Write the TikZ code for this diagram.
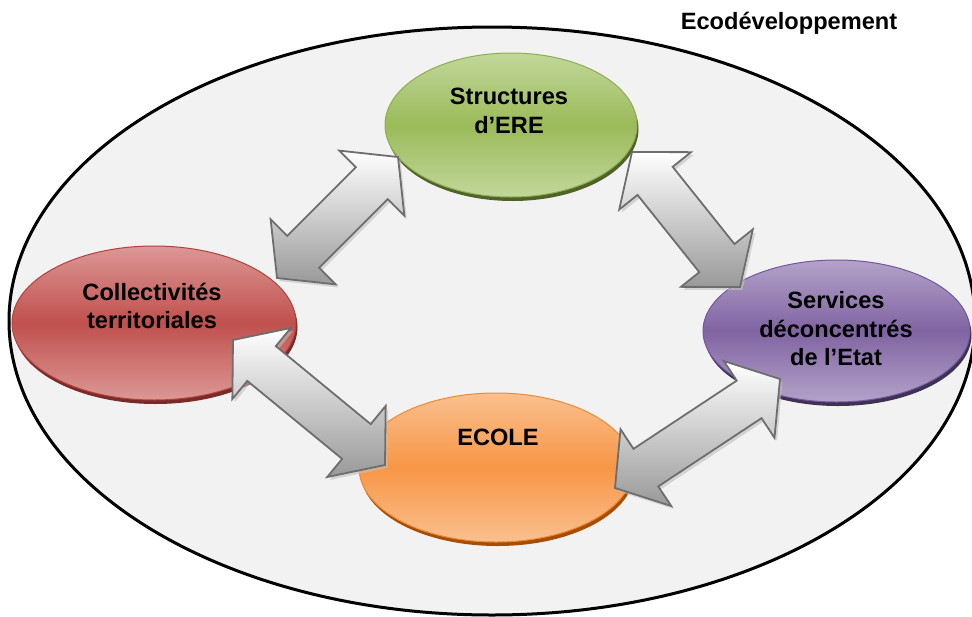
\documentclass[tikz,border=0pt]{standalone}
\usepackage{fontspec}
\setmainfont{Liberation Sans}
\usetikzlibrary{calc,shapes.geometric,shadows}
\definecolor{bgfill}{HTML}{F2F2F2}
\definecolor{gbase}{HTML}{9BBB59}\definecolor{glight}{HTML}{C2D79C}\definecolor{gline}{HTML}{8EAE50}\definecolor{gdark}{HTML}{4F6228}
\definecolor{rbase}{HTML}{C0504D}\definecolor{rlight}{HTML}{DC9896}\definecolor{rline}{HTML}{B5403D}\definecolor{rdark}{HTML}{772C2A}
\definecolor{pbase}{HTML}{8064A2}\definecolor{plight}{HTML}{B3A2C9}\definecolor{pline}{HTML}{7358A0}\definecolor{pdark}{HTML}{3F3151}
\definecolor{obase}{HTML}{F79646}\definecolor{olight}{HTML}{FAC090}\definecolor{oline}{HTML}{F08A30}\definecolor{odark}{HTML}{A64D06}
\definecolor{agray}{HTML}{999999}\definecolor{aline}{HTML}{6E6E6E}
\newcommand\dblarrowpath[2]{(#1)
 -- ($(#1)!37pt!(#2)!46pt!90:(#2)$)
 -- ($(#1)!37pt!(#2)!22.5pt!90:(#2)$)
 -- ($(#2)!37pt!(#1)!22.5pt!-90:(#1)$)
 -- ($(#2)!37pt!(#1)!46pt!-90:(#1)$)
 -- (#2)
 -- ($(#2)!37pt!(#1)!46pt!90:(#1)$)
 -- ($(#2)!37pt!(#1)!22.5pt!90:(#1)$)
 -- ($(#1)!37pt!(#2)!22.5pt!-90:(#2)$)
 -- ($(#1)!37pt!(#2)!46pt!-90:(#2)$)
 -- cycle}
\newcommand\blockarrow[2]{%
 \fill[arrowshadow] \dblarrowpath{#1}{#2};
 \draw[arrowbody] \dblarrowpath{#1}{#2};}
\tikzset{
 outerell/.style={ellipse, inner sep=0pt, draw=black, line width=3pt, fill=bgfill},
 bubble/.style={ellipse, inner sep=0pt, line width=1pt},
 greenb/.style={draw=gline, top color=glight, bottom color=glight, middle color=gbase,
   drop shadow={shadow xshift=1.5pt, shadow yshift=-4pt, fill=gdark, opacity=1}},
 redb/.style={draw=rline, top color=rlight, bottom color=rlight, middle color=rbase,
   drop shadow={shadow xshift=1.5pt, shadow yshift=-4pt, fill=rdark, opacity=1}},
 purpleb/.style={draw=pline, top color=plight, bottom color=plight, middle color=pbase,
   drop shadow={shadow xshift=1.5pt, shadow yshift=-4pt, fill=pdark, opacity=1}},
 orangeb/.style={draw=oline, top color=olight, bottom color=olight, middle color=obase,
   drop shadow={shadow xshift=1.5pt, shadow yshift=-4pt, fill=odark, opacity=1}},
 arrowbody/.style={draw=aline, line width=1.8pt, line join=miter, top color=white, bottom color=agray},
 arrowshadow/.style={fill=black!25, opacity=0.6, transform canvas={shift={(2.5pt,-3pt)}}},
 lbl/.style={align=center, inner sep=0pt, font=\bfseries\fontsize{23.6pt}{28.5pt}\selectfont}
}
\begin{document}
\begin{tikzpicture}[x=1pt,y=-1pt]
\useasboundingbox (0,0) rectangle (972,616);
\clip (0,0) rectangle (972,616);
\node[outerell, minimum width=966pt, minimum height=588pt] (eco) at (492,321) {};
\node[lbl] (title) at (789,23) {Ecodéveloppement};
% bubbles
\node[bubble, greenb, minimum width=252pt, minimum height=144pt] (ere) at (511,125) {};
\node[bubble, redb, minimum width=284pt, minimum height=154pt] (ct) at (154,323) {};
\node[bubble, purpleb, minimum width=267pt, minimum height=142pt] (sde) at (836.5,331) {};
\node[bubble, orangeb, minimum width=274pt, minimum height=149pt] (ecole) at (496,467.5) {};
% arrow ends
\coordinate (ct-ere) at (277,278);
\coordinate (ere-ct) at (398,157);
\coordinate (ere-sde) at (632,152);
\coordinate (sde-ere) at (740,287);
\coordinate (ct-ecole) at (233,340);
\coordinate (ecole-ct) at (385,465);
\coordinate (ecole-sde) at (615,488);
\coordinate (sde-ecole) at (780,379);
\blockarrow{ct-ere}{ere-ct}
\blockarrow{ere-sde}{sde-ere}
\blockarrow{ct-ecole}{ecole-ct}
\blockarrow{ecole-sde}{sde-ecole}
% labels
\node[lbl] (ere-t) at (509,111) {Structures\\d’ERE};
\node[lbl] (ct-t) at (152,306) {Collectivités\\territoriales};
\node[lbl] (sde-t) at (836,329) {Services\\déconcentrés\\de l’Etat};
\node[lbl] (ecole-t) at (498,437) {ECOLE};
\end{tikzpicture}
\end{document}
